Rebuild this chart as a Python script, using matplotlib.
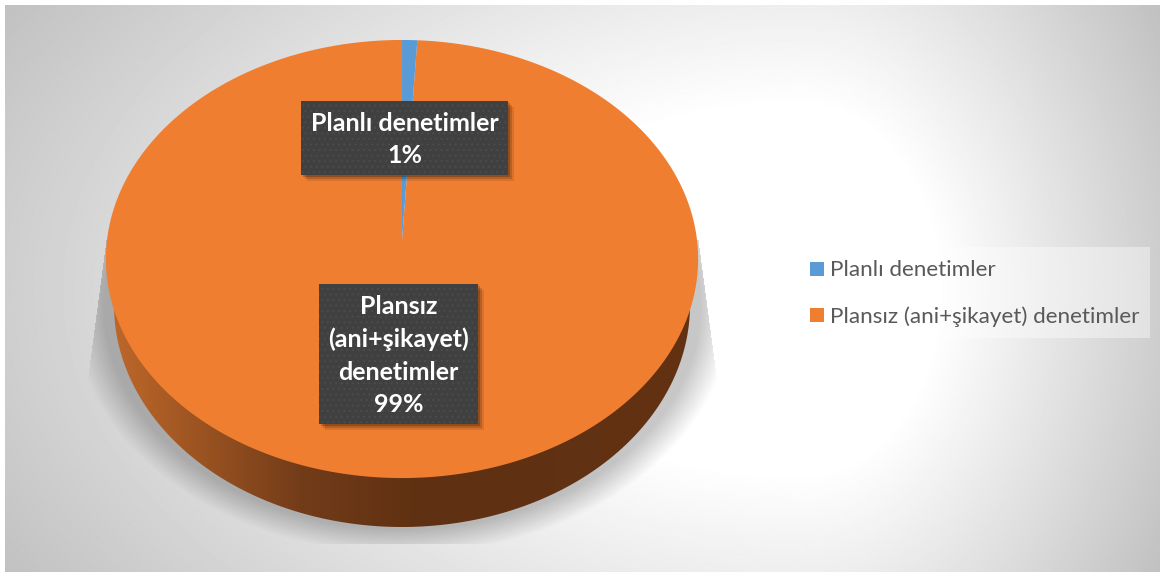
import matplotlib
matplotlib.use('Agg')
import matplotlib.pyplot as plt
import numpy as np
from matplotlib.patches import Polygon, Rectangle

labels = ['Planlı denetimler', 'Plansız (ani+şikayet) denetimler']
box_labels = ['Planlı denetimler', 'Plansız\n(ani+şikayet)\ndenetimler']
values = [0.9, 99.1]
colors = ['#5b9bd5', '#f07e31']

W, H = 1164, 578
CX, TIP_Y = 402, 240


def warp(x, y):
    # unit pie -> tilted disc in pixels, near side bigger
    k = 0.0868
    d = 1 + k * y
    return CX + 295 * x / d, TIP_Y - 217.4 * y / d


def background():
    yy, xx = np.mgrid[0:H, 0:W]
    dx = (xx - 800) * np.where(xx < 800, 0.45, 1.0)
    d = np.hypot(dx, (yy - 290) * 0.75)
    return 255 - 63 * np.clip((d - 140) / 285, 0, 1.2)


def add_shadow(ax):
    yy, xx = np.mgrid[0:H, 0:W]
    r = np.hypot((xx - CX) / 298, (yy - 305) / 224)
    a = 0.22 * np.clip((1.11 - r) / 0.11, 0, 1)
    # flared sides, flat cut at the bottom
    half = 296 + (yy - 240) * 20 / 150
    a[(np.abs(xx - CX) > half) | (yy < 240) | (yy > 543)] = 0
    img = np.zeros((H, W, 4))
    img[..., 3] = a
    ax.imshow(img, extent=(0, W, H, 0), zorder=1, aspect='auto')


def add_side(ax):
    t = np.linspace(np.pi, 0, 200)
    px = CX + 288 * np.cos(t)
    py = 305 + 222 * np.sin(t)
    poly = Polygon(np.r_[[[106, 259]], np.c_[px, py], [[698, 259]]], closed=True,
                   fc='none', ec='none', transform=ax.transData)
    ax.add_patch(poly)
    xs = [106, 150, 300, 420, 690, 698]
    rs = [[190, 105, 45], [175, 95, 38], [115, 60, 25], [95, 48, 18], [98, 50, 18], [105, 53, 20]]
    grad = np.array([[np.interp(np.arange(100, 705), xs, [c[i] for c in rs]) for i in range(3)]])
    grad = grad.transpose(0, 2, 1) / 255
    im = ax.imshow(grad, extent=(100, 705, 540, 250), zorder=2, aspect='auto')
    im.set_clip_path(poly)


def add_label_box(ax, x0, y0, x1, y1, text):
    for off, alpha in zip([6, 4, 2], [0.1, 0.15, 0.2]):
        ax.add_patch(Rectangle((x0 + off, y0 + off), x1 - x0, y1 - y0, fc='black', ec='none',
                               alpha=alpha, zorder=5))
    ax.add_patch(Rectangle((x0, y0), x1 - x0, y1 - y0, fc='#404040', ec='#4b4b4b', lw=0,
                           hatch='...', zorder=6))
    ax.text((x0 + x1) / 2, (y0 + y1) / 2 + 1.5, text, color='white', fontsize=18, fontweight='bold',
            ha='center', va='center', linespacing=1.49, zorder=7)


def main():
    plt.rcParams['font.family'] = ['Lato', 'DejaVu Sans']
    plt.rcParams['hatch.linewidth'] = 0.8
    fig = plt.figure(figsize=(W / 100, H / 100), dpi=100, facecolor='white')
    ax = fig.add_axes([0, 0, 1, 1])

    wedges, _ = ax.pie(values, startangle=90, counterclock=False, colors=colors)
    polys = []
    for w, c in zip(wedges, colors):
        t = np.deg2rad(np.linspace(w.theta1, w.theta2, 400))
        x = np.r_[0, np.cos(t)]
        y = np.r_[0, np.sin(t)]
        polys.append((np.c_[warp(x, y)], c))
        w.remove()

    ax.set_aspect('auto')
    ax.imshow(background(), cmap='gray', vmin=0, vmax=255, extent=(5, 1160, 572, 5), zorder=0, aspect='auto')
    add_shadow(ax)
    add_side(ax)
    for xy, c in polys[::-1]:
        ax.add_patch(Polygon(xy, closed=True, fc=c, ec='none', zorder=3))

    add_label_box(ax, 301, 101, 508, 175, f'{box_labels[0]}\n{values[0]:.0f}%')
    add_label_box(ax, 319, 284, 478, 424, f'{box_labels[1]}\n{values[1]:.0f}%')

    # legend panel
    ax.add_patch(Rectangle((798, 247), 352, 91, fc='white', ec='none', alpha=0.4, zorder=3))
    for i, (lab, c) in enumerate(zip(labels, colors)):
        y = 269 + 46 * i
        ax.add_patch(Rectangle((810, y - 7), 14, 14, fc=c, ec='none', zorder=4))
        ax.text(830, y + 1.5, lab, color='#595959', fontsize=16.2, va='center', ha='left', zorder=4)

    ax.set_xlim(0, W)
    ax.set_ylim(H, 0)
    ax.set_axis_off()
    fig.savefig('out.png', dpi=100, facecolor='white')


if __name__ == '__main__':
    main()
